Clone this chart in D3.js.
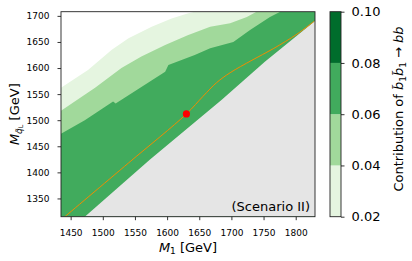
<!DOCTYPE html>
<html>
<head>
<meta charset="utf-8">
<script src="https://cdn.jsdelivr.net/npm/d3@7"></script>
<style>
  body { margin: 0; background: #fff; }
  text { font-family: "DejaVu Sans", sans-serif; fill: #000; }
</style>
</head>
<body>
<div id="chart"></div>
<script>
// axis ranges and ticks
var m1Domain = [1435, 1830];
var mqDomain = [1315, 1708];
var m1Ticks = [1450, 1500, 1550, 1600, 1650, 1700, 1750, 1800];
var mqTicks = [1350, 1400, 1450, 1500, 1550, 1600, 1650, 1700];

// colorbar levels
var levels = [0.02, 0.04, 0.06, 0.08, 0.10];
var levelColors = ["#e5f5e0", "#a1d99b", "#41ab5d", "#006d2c"];

// contour edges [M1, Mq]
var contour002 = [[1435, 1562], [1477, 1596], [1514, 1635], [1540, 1657], [1576, 1679],
  [1607, 1695], [1633, 1705], [1643, 1708]];
var contour004 = [[1435, 1518], [1488, 1562], [1529, 1600], [1560, 1622], [1597, 1644],
  [1632, 1663], [1667, 1679], [1698, 1686], [1724, 1698], [1739, 1708]];
var contour006 = [[1435, 1474], [1472, 1500], [1516, 1536], [1520, 1532],
  [1597, 1593], [1602, 1606], [1643, 1625], [1667, 1638], [1703, 1650], [1729, 1673],
  [1760, 1698], [1776, 1708]];

// excluded region edge (grey below)
var excludedEdge = [[1472, 1315], [1573, 1424], [1685, 1539], [1752, 1612], [1830, 1690]];

// orange curve and benchmark point
var orangeLine = [[1441, 1315], [1540, 1418], [1630, 1512], [1656, 1546], [1677, 1572],
  [1698, 1591], [1732, 1615], [1765, 1637], [1802, 1665], [1829, 1690]];
var benchmark = [1630, 1512];

var svgWidth = 412;
var svgHeight = 261;
var plot = { left: 61, top: 11.7, right: 315, bottom: 216.7 };
var cbar = { left: 330, right: 341 };

var svg = d3.select("#chart")
  .append("svg")
  .attr("width", svgWidth)
  .attr("height", svgHeight);

var x = d3.scaleLinear().domain(m1Domain).range([plot.left, plot.right]);
var y = d3.scaleLinear().domain(mqDomain).range([plot.bottom, plot.top]);

svg.append("clipPath").attr("id", "clip")
  .append("rect")
  .attr("x", plot.left).attr("y", plot.top)
  .attr("width", plot.right - plot.left).attr("height", plot.bottom - plot.top);

var area = svg.append("g").attr("clip-path", "url(#clip)");

var line = d3.line().x(d => x(d[0])).y(d => y(d[1]));

// region under an edge, closed through the bottom-right
function below(edge) {
  return edge.concat([[m1Domain[1], mqDomain[1]], [m1Domain[1], mqDomain[0]], [m1Domain[0], mqDomain[0]]]);
}

area.append("rect")
  .attr("x", plot.left).attr("y", plot.top)
  .attr("width", plot.right - plot.left).attr("height", plot.bottom - plot.top)
  .attr("fill", "#fff");

[contour002, contour004, contour006].forEach(function(edge, i) {
  area.append("path")
    .attr("d", line(below(edge)) + "Z")
    .attr("fill", levelColors[i]);
});

// grey excluded triangle
area.append("path")
  .attr("d", line(excludedEdge.concat([[m1Domain[1], mqDomain[0]]])) + "Z")
  .attr("fill", "#e5e5e5");

area.append("path")
  .attr("d", d3.line().x(d => x(d[0])).y(d => y(d[1])).curve(d3.curveCatmullRom)(orangeLine))
  .attr("fill", "none")
  .attr("stroke", "#f08c00")
  .attr("stroke-width", 1);

area.append("circle")
  .attr("cx", x(benchmark[0]))
  .attr("cy", y(benchmark[1]))
  .attr("r", 3.6)
  .attr("fill", "#ff0000");

// axes
var xAxis = svg.append("g")
  .attr("transform", `translate(0, ${plot.bottom})`)
  .call(d3.axisBottom(x).tickValues(m1Ticks).tickFormat(d3.format("d")).tickSize(3.5).tickPadding(9));
var yAxis = svg.append("g")
  .attr("transform", `translate(${plot.left}, 0)`)
  .call(d3.axisLeft(y).tickValues(mqTicks).tickFormat(d3.format("d")).tickSize(3.5).tickPadding(8));

[xAxis, yAxis].forEach(function(a) {
  a.select(".domain").remove();
  a.selectAll("line").attr("stroke", "#000").attr("stroke-width", 0.8);
  a.selectAll("text").style("font-family", "DejaVu Sans").attr("font-size", "9px");
});

svg.append("rect")
  .attr("x", plot.left).attr("y", plot.top)
  .attr("width", plot.right - plot.left).attr("height", plot.bottom - plot.top)
  .attr("fill", "none").attr("stroke", "#222").attr("stroke-width", 0.9);

svg.append("text")
  .attr("x", 310).attr("y", 210.5)
  .attr("text-anchor", "end")
  .attr("font-size", "13px")
  .text("(Scenario II)");

// axis labels
var xl = svg.append("text")
  .attr("x", (plot.left + plot.right) / 2).attr("y", 251.5)
  .attr("text-anchor", "middle").attr("font-size", "13px");
xl.append("tspan").attr("font-style", "italic").text("M");
xl.append("tspan").attr("font-size", "9px").attr("dy", "2.5").text("1");
xl.append("tspan").attr("dy", "-2.5").text(" [GeV]");

var yl = svg.append("text")
  .attr("transform", `translate(19, ${(plot.top + plot.bottom) / 2}) rotate(-90)`)
  .attr("text-anchor", "middle").attr("font-size", "13px");
yl.append("tspan").attr("font-style", "italic").text("M");
yl.append("tspan").attr("font-size", "9px").attr("font-style", "italic").attr("dy", "2.5").text("q\u0303");
yl.append("tspan").attr("font-size", "6.5px").attr("dy", "1.5").text("L");
yl.append("tspan").attr("dy", "-4").text(" [GeV]");

// colorbar
var cb = d3.scaleLinear().domain([levels[0], levels[levels.length - 1]]).range([plot.bottom, plot.top]);
svg.selectAll(".band")
  .data(levelColors)
  .enter()
  .append("rect")
  .attr("class", "band")
  .attr("x", cbar.left)
  .attr("y", (d, i) => cb(levels[i + 1]))
  .attr("width", cbar.right - cbar.left)
  .attr("height", (d, i) => cb(levels[i]) - cb(levels[i + 1]))
  .attr("fill", d => d);

svg.append("rect")
  .attr("x", cbar.left).attr("y", plot.top)
  .attr("width", cbar.right - cbar.left).attr("height", plot.bottom - plot.top)
  .attr("fill", "none").attr("stroke", "#222").attr("stroke-width", 0.9);

var cbAxis = svg.append("g")
  .attr("transform", `translate(${cbar.right}, 0)`)
  .call(d3.axisRight(cb).tickValues(levels).tickFormat(d3.format(".2f")).tickSize(3.5).tickPadding(7));
cbAxis.select(".domain").remove();
cbAxis.selectAll("line").attr("stroke", "#000").attr("stroke-width", 0.8);
cbAxis.selectAll("text").style("font-family", "DejaVu Sans").attr("font-size", "13px");

var cl = svg.append("text")
  .attr("transform", `translate(403, 109) rotate(-90)`)
  .attr("text-anchor", "middle").attr("font-size", "13px");
cl.append("tspan").text("Contribution of ");
cl.append("tspan").attr("font-style", "italic").text("b\u0303");
cl.append("tspan").attr("font-size", "9px").attr("dy", "2.5").text("1");
cl.append("tspan").attr("font-style", "italic").attr("dy", "-2.5").text("b\u0303");
cl.append("tspan").attr("font-size", "9px").attr("dy", "2.5").text("1");
cl.append("tspan").attr("dy", "-2.5").text(" \u2192 ");
cl.append("tspan").attr("font-style", "italic").text("bb");
</script>
</body>
</html>
